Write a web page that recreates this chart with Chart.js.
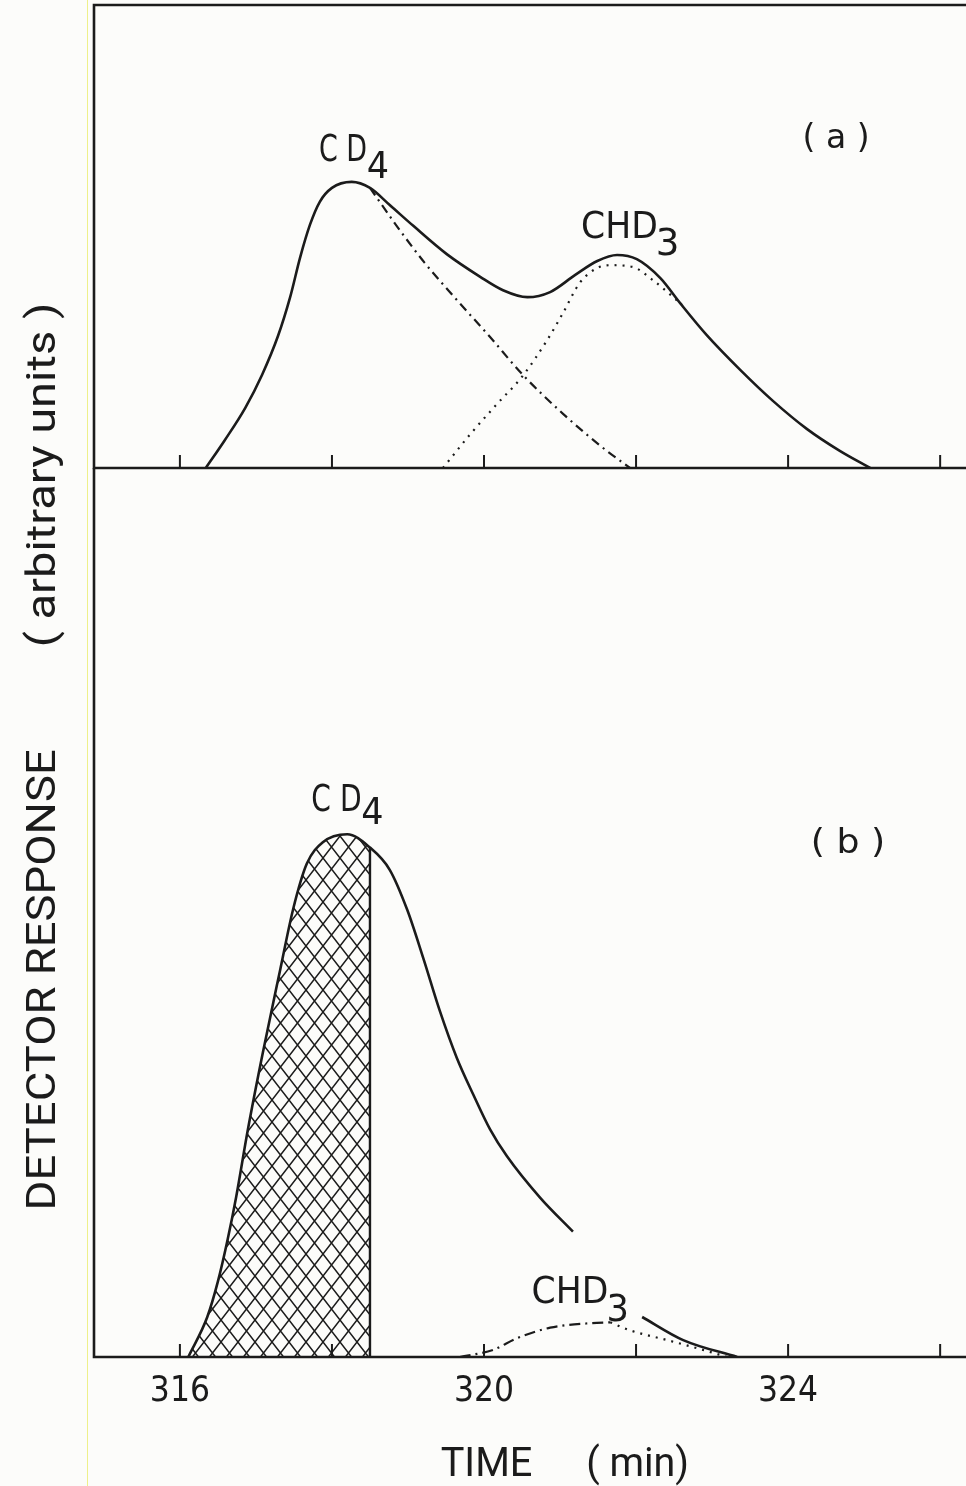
<!DOCTYPE html>
<html>
<head>
<meta charset="utf-8">
<title>Detector response vs time</title>
<script src="https://cdn.jsdelivr.net/npm/chart.js@4.4.1/dist/chart.umd.min.js"></script>
<style>
  html, body { margin: 0; padding: 0; background: #fcfcfa; }
  #page { position: relative; width: 966px; height: 1486px; overflow: hidden; }
  #page canvas { position: absolute; left: 0; top: 0; }
  .scan { position: absolute; left: 87px; top: 0; width: 1px; height: 1486px; background: #eef08a; }
</style>
</head>
<body>
<div id="page">
  <div class="scan"></div>
  <canvas id="chartA" width="966" height="1486"></canvas>
  <canvas id="chartB" width="966" height="1486"></canvas>
</div>
<script>
// time axis (min)
const xTicks = [316, 318, 320, 322, 324, 326];
const xLabelled = [316, 320, 324];
const xMin = 314.87;
const xMax = 326.34;

// (a) total signal, CD4 component, CHD3 component
const aTotalT = [316.34, 316.59, 316.86, 317.08, 317.29, 317.45, 317.58, 317.71, 317.84, 318.00, 318.26, 318.50, 318.76, 319.07, 319.51, 319.95, 320.25, 320.57, 320.87, 321.20, 321.49, 321.75, 322.01, 322.32, 322.58, 322.93, 323.37, 323.80, 324.25, 324.68, 325.08];
const aTotalV = [0, 6.0, 13.0, 20.1, 28.5, 36.9, 45.4, 52.5, 57.5, 60.5, 61.8, 60.5, 56.8, 52.3, 46.2, 41.3, 38.4, 36.9, 38.0, 41.7, 44.7, 46.0, 45.1, 41.0, 35.6, 28.7, 21.2, 14.5, 8.4, 3.7, 0];
const aCd4T = [318.50, 318.86, 319.22, 319.62, 320.08, 320.50, 321.04, 321.53, 321.92];
const aCd4V = [60.5, 52.1, 44.3, 36.7, 28.3, 20.3, 11.7, 4.8, 0];
const aChd3T = [319.46, 319.82, 320.17, 320.50, 320.83, 321.04, 321.26, 321.49, 321.66, 321.96, 322.22, 322.58];
const aChd3V = [0, 7.3, 13.8, 19.7, 27.6, 33.5, 40.0, 43.2, 43.8, 43.4, 40.6, 35.6];

// (b) total signal (gap where the CHD3 label sits), collected CD4 cut, CHD3 component
const bTotalT = [316.11, 316.36, 316.50, 316.63, 316.74, 316.89, 317.09, 317.32, 317.49, 317.67, 317.88, 318.20, 318.50, 318.76, 318.99, 319.20, 319.42, 319.64, 319.86, 320.08, 320.30, 320.74, 321.17, 321.60, 322.08, 322.62, 323.33];
const bTotalV = [0, 4.5, 8.5, 13.3, 18.0, 25.4, 34.2, 43.6, 50.4, 55.5, 57.9, 58.8, 57.3, 54.8, 50.3, 44.9, 38.9, 33.7, 29.5, 25.6, 22.6, 17.9, 14.1, null, 4.5, 1.9, 0];
const bCutT = 318.50;
const bChd3DashT = [319.68, 320.12, 320.43, 320.87, 321.39, 321.66];
const bChd3DashV = [0, 0.8, 2.1, 3.3, 3.8, 3.9];
const bChd3DotT = [321.66, 321.92, 322.41, 322.88, 323.20];
const bChd3DotV = [3.9, 3.0, 1.9, 0.8, 0];

const INK = '#1b1b1b';
const NARROW = "'Liberation Sans Narrow', 'DejaVu Sans Condensed', 'Liberation Sans', sans-serif";
const PLAIN = "Roboto, 'Liberation Sans', sans-serif";

const pts = (ts, vs) => ts.map((t, i) => ({ x: t, y: vs[i] }));

function crossHatch() {
  const c = document.createElement('canvas');
  c.width = 17; c.height = 22;
  const g = c.getContext('2d');
  g.strokeStyle = INK;
  g.lineWidth = 1.5;
  g.beginPath();
  for (const dx of [-17, 0, 17]) {
    g.moveTo(dx, 0); g.lineTo(dx + 17, 22);
    g.moveTo(dx + 17, 0); g.lineTo(dx, 22);
  }
  g.stroke();
  return g.createPattern(c, 'repeat');
}

// draw text squeezed/stretched so its ink spans `width` px
function fitText(ctx, str, x, y, width, font) {
  ctx.font = font;
  const m = ctx.measureText(str);
  const ink = m.actualBoundingBoxLeft + m.actualBoundingBoxRight;
  ctx.save();
  ctx.translate(x, y);
  ctx.scale(width / ink, 1);
  ctx.fillText(str, m.actualBoundingBoxLeft, 0);
  ctx.restore();
}

const framePlugin = {
  id: 'frame',
  afterDatasetsDraw(chart, args, opts) {
    const { ctx, chartArea: ca, scales: { x, y } } = chart;
    const base = y.getPixelForValue(0);
    ctx.save();
    ctx.strokeStyle = INK;
    ctx.lineWidth = 2.6;
    ctx.beginPath();
    if (opts.top) {
      ctx.moveTo(ca.left - 1.3, ca.top);
      ctx.lineTo(ca.right, ca.top);
    }
    ctx.moveTo(ca.left, ca.top);
    ctx.lineTo(ca.left, base);
    ctx.moveTo(ca.left - 1.3, base);
    ctx.lineTo(ca.right, base);
    ctx.stroke();
    ctx.lineWidth = 2;
    ctx.beginPath();
    xTicks.forEach(v => {
      const px = x.getPixelForValue(v);
      ctx.moveTo(px, base);
      ctx.lineTo(px, base - 13);
    });
    ctx.stroke();
    ctx.restore();
  }
};

const labelPlugin = {
  id: 'labels',
  afterDraw(chart, args, opts) {
    const { ctx, scales: { x, y } } = chart;
    ctx.save();
    ctx.fillStyle = INK;
    ctx.textBaseline = 'alphabetic';
    (opts.items || []).forEach(it => {
      const px = x.getPixelForValue(it.t);
      const py = y.getPixelForValue(it.v);
      const font = it.size + 'px ' + (it.plain ? PLAIN : NARROW);
      fitText(ctx, it.text, px, py, it.w, font);
      if (it.sub) fitText(ctx, it.sub, px + it.w + 2, py + it.subDy, it.subW, font);
    });
    (opts.side || []).forEach(it => {
      ctx.save();
      ctx.translate(it.x, it.y);
      ctx.rotate(-Math.PI / 2);
      fitText(ctx, it.text, 0, 0, it.w, it.size + 'px ' + PLAIN);
      ctx.restore();
    });
    ctx.restore();
  }
};

const lineBase = {
  pointRadius: 0,
  borderColor: INK,
  fill: false,
  cubicInterpolationMode: 'monotone'
};

new Chart(document.getElementById('chartA'), {
  type: 'line',
  data: {
    datasets: [
      { ...lineBase, label: 'total', data: pts(aTotalT, aTotalV), borderWidth: 2.6 },
      { ...lineBase, label: 'CD4', data: pts(aCd4T, aCd4V), borderWidth: 2.2, borderDash: [9, 5, 2, 5] },
      { ...lineBase, label: 'CHD3', data: pts(aChd3T, aChd3V), borderWidth: 2.2, borderDash: [2, 6] }
    ]
  },
  options: {
    responsive: false,
    animation: false,
    devicePixelRatio: 1,
    layout: { padding: { left: 94, top: 5, right: 0, bottom: 1018 } },
    scales: {
      x: { type: 'linear', min: xMin, max: xMax, display: false },
      y: { min: 0, max: 100, display: false }
    },
    plugins: {
      legend: { display: false },
      tooltip: { enabled: false },
      frame: { top: true },
      labels: {
        items: [
          { text: 'C D', sub: '4', t: 317.84, v: 66.3, w: 46, subW: 20, subDy: 17, size: 37 },
          { text: 'CHD', sub: '3', t: 321.29, v: 49.7, w: 74, subW: 19, subDy: 17, size: 37 },
          { text: '( a )', t: 324.22, v: 69.1, w: 63, size: 33 }
        ],
        side: [
          { text: 'DETECTOR RESPONSE', x: 55, y: 1207, w: 457, size: 40 },
          { text: '( arbitrary units )', x: 55, y: 645, w: 340, size: 40 }
        ]
      }
    }
  },
  plugins: [framePlugin, labelPlugin]
});

const hatch = crossHatch();

new Chart(document.getElementById('chartB'), {
  type: 'line',
  data: {
    datasets: [
      { ...lineBase, label: 'total', data: pts(bTotalT, bTotalV), borderWidth: 2.6, spanGaps: false },
      { ...lineBase, label: 'cut', data: [{ x: bCutT, y: 0 }, { x: bCutT, y: bTotalV[bTotalT.indexOf(bCutT)] }], borderWidth: 2.4, cubicInterpolationMode: 'default', tension: 0 },
      { ...lineBase, label: 'CHD3 dash', data: pts(bChd3DashT, bChd3DashV), borderWidth: 2.2, borderDash: [11, 5, 2, 5] },
      { ...lineBase, label: 'CHD3 dot', data: pts(bChd3DotT, bChd3DotV), borderWidth: 2.2, borderDash: [2, 6] },
      { ...lineBase, label: 'collected', data: pts(bTotalT, bTotalV).filter(p => p.x <= bCutT), borderWidth: 0, fill: 'origin', backgroundColor: hatch }
    ]
  },
  options: {
    responsive: false,
    animation: false,
    devicePixelRatio: 1,
    layout: { padding: { left: 94, top: 468, right: 0, bottom: 0 } },
    scales: {
      x: {
        type: 'linear',
        min: xMin,
        max: xMax,
        grid: { display: false, drawTicks: false },
        border: { display: false },
        afterBuildTicks: axis => { axis.ticks = xTicks.map(v => ({ value: v })); },
        afterFit: axis => { axis.height = 129; },
        ticks: {
          autoSkip: false,
          maxRotation: 0,
          minRotation: 0,
          padding: 17,
          color: INK,
          font: { family: NARROW, size: 35, lineHeight: 1 },
          callback: v => xLabelled.includes(v) ? String(v) : ''
        }
      },
      y: { min: 0, max: 100, display: false }
    },
    plugins: {
      legend: { display: false },
      tooltip: { enabled: false },
      frame: { top: false },
      labels: {
        items: [
          { text: 'C D', sub: '4', t: 317.74, v: 61.4, w: 48, subW: 20, subDy: 13, size: 37 },
          { text: '( b )', t: 324.33, v: 56.7, w: 70, size: 33 },
          { text: 'CHD', sub: '3', t: 320.64, v: 6.1, w: 74, subW: 18, subDy: 18, size: 37 },
          { text: 'TIME', t: 319.43, v: -13.4, w: 91, size: 40, plain: true },
          { text: '( min)', t: 321.37, v: -13.4, w: 99, size: 40, plain: true }
        ]
      }
    }
  },
  plugins: [framePlugin, labelPlugin]
});
</script>
</body>
</html>
